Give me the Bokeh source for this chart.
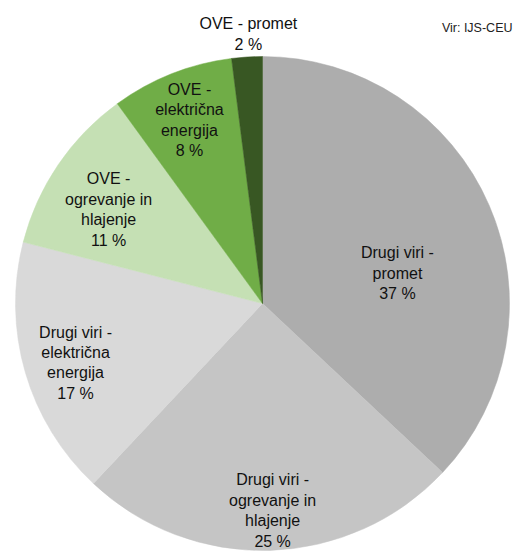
import math
from bokeh.plotting import figure
from bokeh.models import ColumnDataSource, Range1d
from bokeh.core.properties import value
from bokeh.embed import file_html
from bokeh.resources import INLINE

# ---- data ----
categories = [
    "Drugi viri -\npromet",
    "Drugi viri -\nogrevanje in\nhlajenje",
    "Drugi viri -\nelektrična\nenergija",
    "OVE -\nogrevanje in\nhlajenje",
    "OVE -\nelektrična\nenergija",
    "OVE - promet",
]
shares = [37, 25, 17, 11, 8, 2]
pct_labels = ["37 %", "25 %", "17 %", "11 %", "8 %", "2 %"]
source_note = "Vir: IJS-CEU"

# ---- style / layout ----
colors = ["#adadad", "#c5c5c5", "#d9d9d9", "#c5e0b4", "#70ad47", "#385723"]
W, H = 513, 551
cx, cy, R = 262, H - 303, 247
label_r = [0.560, 0.839, 0.794, 0.730, 0.800, 1.093]
label_dtheta = [10.7, -1.0, -1.4, -2.8, -0.1, 0.6]

total = float(sum(shares))
starts, ends, lx, ly, texts = [], [], [], [], []
cum = 0.0
for i, s in enumerate(shares):
    a0 = cum / total * 2 * math.pi
    cum += s
    a1 = cum / total * 2 * math.pi
    starts.append(math.pi / 2 - a0)
    ends.append(math.pi / 2 - a1)
    mid = (a0 + a1) / 2 + math.radians(label_dtheta[i])
    r = label_r[i] * R
    lx.append(cx + r * math.sin(mid))
    ly.append(cy + r * math.cos(mid))
    texts.append(categories[i] + "\n" + pct_labels[i])

src = ColumnDataSource(dict(start=starts, end=ends, color=colors,
                            lx=lx, ly=ly, text=texts))

p = figure(width=W, height=H, output_backend="svg", toolbar_location=None,
           x_range=Range1d(0, W), y_range=Range1d(0, H),
           x_axis_location=None, y_axis_location=None,
           min_border=0, outline_line_color=None,
           background_fill_color="white", border_fill_color="white")
p.grid.visible = False

p.wedge(x=cx, y=cy, radius=R, start_angle="start", end_angle="end",
        direction="clock", fill_color="color", line_color="color",
        line_width=0.5, source=src)

p.text(x="lx", y="ly", text="text", source=src,
       text_font=value("Liberation Sans"), text_font_size="16px",
       text_align="center", text_baseline="middle", text_line_height=1.2,
       text_color="#111111")

p.text(x=[W - 1], y=[H - 27], text=[source_note],
       text_font=value("Liberation Sans"), text_font_size="12.5px",
       text_align="right", text_baseline="middle", text_color="#222222")

open("out.html", "w").write(file_html(p, INLINE))
